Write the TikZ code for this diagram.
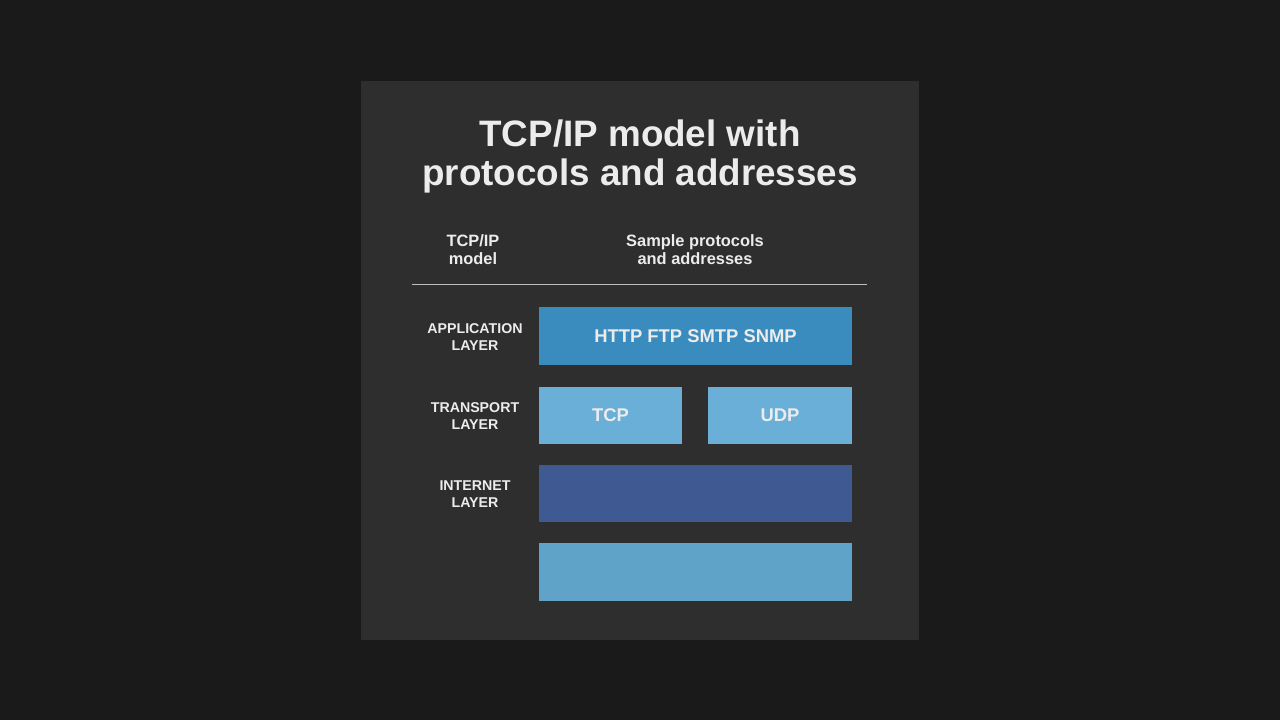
\documentclass[tikz,border=0pt]{standalone}
\usepackage{fontspec}
\setmainfont{Liberation Sans}
\definecolor{pagebg}{HTML}{1A1A1A}
\definecolor{panelbg}{HTML}{2E2E2E}
\definecolor{inktext}{HTML}{ECECEC}
\definecolor{rulegray}{HTML}{BDBDBD}
\definecolor{appblue}{HTML}{3A8CBE}
\definecolor{transblue}{HTML}{6AAFD8}
\definecolor{netblue}{HTML}{3F5A93}
\definecolor{linkblue}{HTML}{5FA3C8}
\tikzset{
  layerlabel/.style={text=inktext, font=\fontsize{14.2}{17}\selectfont\bfseries, align=center, inner sep=0pt},
  layerbox/.style={draw=none, text=inktext, font=\fontsize{18.4}{20}\selectfont\bfseries, inner sep=0pt, minimum height=58pt},
}
\begin{document}
\begin{tikzpicture}[x=1pt, y=-1pt]
   \fill[pagebg] (0,0) rectangle (1280,720);
   \fill[panelbg] (361,81) rectangle (919,640);
   % title and column heads
   \node[text=inktext, font=\fontsize{36.8}{39}\selectfont\bfseries, align=center, inner sep=0pt] (title) at (640,156) {TCP/IP model with\\protocols and addresses};
   \node[text=inktext, font=\fontsize{16.4}{18}\selectfont\bfseries, align=center, inner sep=0pt] (headmodel) at (473,250) {TCP/IP\\model};
   \node[text=inktext, font=\fontsize{16.4}{18}\selectfont\bfseries, align=center, inner sep=0pt] (headproto) at (695,250) {Sample protocols\\and addresses};
   \coordinate (ruleleft) at (412,284);
   \coordinate (ruleright) at (867,284);
   \draw[rulegray, line width=1pt] (ruleleft) -- (ruleright);
   % layers
   \node[layerlabel] (applabel) at (475,337) {APPLICATION\\LAYER};
   \node[layerlabel] (translabel) at (475,416.5) {TRANSPORT\\LAYER};
   \node[layerlabel] (netlabel) at (475,494) {INTERNET\\LAYER};
   \node[layerbox, fill=appblue, minimum width=313pt] (app) at (695.5,336) {HTTP FTP SMTP SNMP};
   \node[layerbox, fill=transblue, minimum width=143pt, minimum height=57pt] (tcp) at (610.5,415.5) {TCP};
   \node[layerbox, fill=transblue, minimum width=144pt, minimum height=57pt] (udp) at (780,415.5) {UDP};
   \node[layerbox, fill=netblue, minimum width=313pt, minimum height=57pt] (net) at (695.5,493.5) {};
   \node[layerbox, fill=linkblue, minimum width=313pt] (link) at (695.5,572) {};
\end{tikzpicture}
\end{document}
